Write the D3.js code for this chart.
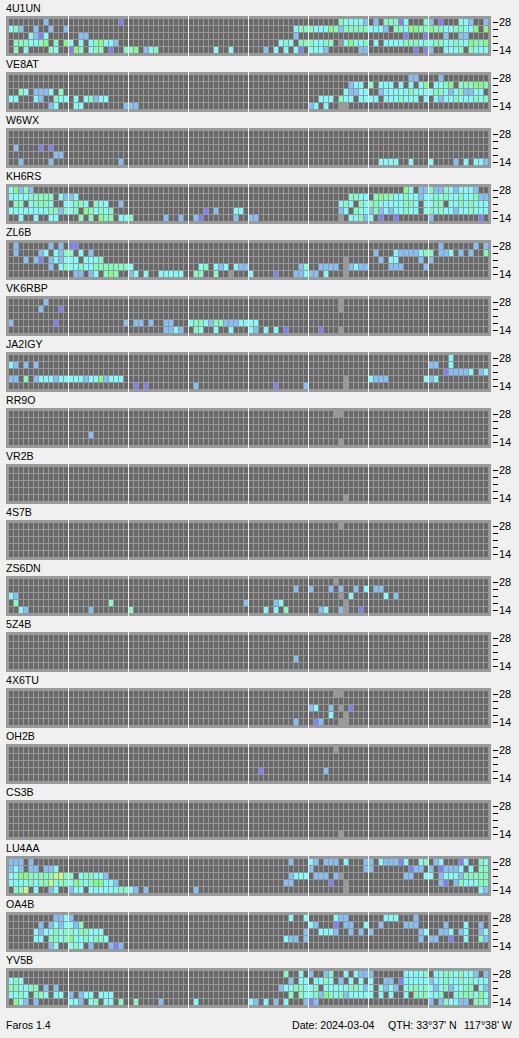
<!DOCTYPE html>
<html>
<head>
<meta charset="utf-8">
<script src="https://cdn.jsdelivr.net/npm/d3@7"></script>
<style>
html,body{margin:0;padding:0;background:#f0f0f0;overflow:hidden}
svg{display:block}
text{font-family:"Liberation Sans",Arial,sans-serif;font-size:10.6px;fill:#000}
</style>
</head>
<body>
<svg id="chart" width="519" height="1038"></svg>
<script>
// Row data: "startColumn:levels" (one digit per 15-minute column, 0 = no signal, 9 = not measured)
const stations = ["4U1UN","VE8AT","W6WX","KH6RS","ZL6B","VK6RBP","JA2IGY","RR9O","VR2B","4S7B","ZS6DN","5Z4B","4X6TU","OH2B","CS3B","LU4AA","OA4B","YV5B"];
const bands = [28,24,21,18,14];
const bandLabels = [28,14];
const levels = [1,2,3,4,5,6,9];
const levelColors = ["#8080ff","#80c0ff","#80ffff","#80ffc0","#80ff80","#c0ff80","#999999"];
const hourLines = [12,24,36,48,60,72,84];
const footer = ["Faros 1.4","Date: 2024-03-04","QTH: 33°37' N","117°38' W"];

const log4U1UN = ["7:2 22:1 66:433332 73:2 75:44413 83:42 86:1 90:332 95:2",
"0:342 5:2 8:2 11:2 57:3444333542444443332 77:44355445443344335 95:5",
"4:3213 14:22 57:2 79:1 83:1 87:2 90:22",
"1:4443345 9:4 11:53 14:3 16:345332 54:343 58:4443344 66:935334 73:3 75:333344434344334335445",
"1:4 3:3 8:43 12:154 16:344 20:1 23:445 27:234 41:3 44:3 51:2 53:3 55:3 57:31 60:3332 70:22 81:1 83:12 87:3334 92:4333"];
const logVE8AT = ["80:22 86:2",
"68:233 72:4 74:333 78:3 80:3 82:35 85:3345 90:444554",
"2:43 5:2223 10:4 67:32233 74:23333343333 85:4432342233",
"0:33 5:32 9:433 13:3 15:34233 62:333 66:433 70:3333 75:3334333 83:3 85:32334333434",
"8:23 13:33 23:222 60:23 63:3 66:99"];
const logW6WX = ["","","1:2 6:1 8:1","9:22","2:2 8:2 22:2 74:3333 80:3 84:3 89:2 91:3 93:332"];
const logKH6RS = ["0:35242 79:53 82:224224323332",
"0:333344444 10:3223 68:4433 73:4544 77:334 80:332 83:334 86:343 89:343 92:342 95:2",
"1:44 4:34443 11:33443 17:433 22:2 66:343 70:434 73:433 76:333 79:443 83:33 85:44 88:33 90:434 93:333",
"0:33333333 8:44 10:2 11:434 15:543434 39:1 41:2 45:33 66:23 69:433 72:242 75:3233 79:433 83:343 86:433 89:233 92:4333",
"2:3 5:3 8:33 14:4 16:4 18:544 22:334 31:2 34:2 37:21 45:2 48:22 66:9 68:334 71:23 74:1 77:1 84:2 94:1"];
const logZL6B = ["1:2 8:2 10:2 12:11 86:2 93:2 95:2",
"1:2 6:23 9:3244 14:3 16:2 73:2 77:32222 82:344 86:223 90:2 92:2 95:4",
"3:2 5:21 8:232333 15:3334 67:9 74:2 76:33 82:2 84:2",
"8:2 10:34334 15:334444 21:4443 38:34 41:323 45:322 58:24 62:2222 67:9 68:2322 76:222 83:2",
"13:22 16:23 19:454 24:23 27:3 30:33333 37:44 41:4 44:9 48:3 53:1 57:22322 63:3 67:9"];
const logVK6RBP = ["7:2 66:9","6:2 10:1 66:9","",
"0:2 9:1 23:2 25:22 28:2 31:22 36:344 39:32 41:44 43:222 46:3333",
"31:2232 37:43 41:3 44:3 48:32 51:3 53:3 55:1 62:1 66:9"];
const logJA2IGY = ["88:3","0:32 3:2 5:2 84:22 88:3","87:122223 94:23",
"0:22 3:4 5:2333 9:2 10:33333 15:2 16:33 18:5 19:2 20:333 67:9 72:3222 83:323",
"25:1 27:1 37:2 53:1 59:2 67:9"];
const logRR9O = ["65:99","","","16:2","66:9"];
const logVR2B = ["","","","","67:9"];
const log4S7B = ["66:9","","","",""];
const logZS6DN = ["65:9","57:2 60:2 64:2 66:2 69:2 71:3 73:22","0:32 66:9 68:3 75:3 77:2",
"1:4 20:4 47:2 53:23 67:9","2:32 16:2 24:4 51:3 53:3 55:4 62:23 66:2 67:9 70:1"];
const log5Z4B = ["","","","57:2",""];
const log4X6TU = ["65:99","","60:23 64:2 66:9 68:1","64:3 67:9","57:2 61:12 66:99"];
const logOH2B = ["65:9","","","50:1 63:2",""];
const logCS3B = ["","","","","66:9"];
const logLU4AA = ["0:222 4:2 56:2 60:32 63:222 67:3 71:22 74:322213 82:34 85:23 90:13 94:43",
"0:232 4:22 7:223 60:2 71:22 80:122 84:2 86:12223 92:3 94:44",
"0:335544444 9:66 11:44 14:344332 56:2333 61:222 65:29 79:22 83:33 86:2333 90:244444",
"0:3333 4:43446 9:344 12:354 15:34 17:55 19:332 55:22 64:1 67:9 86:21 89:24 91:333 94:44",
"1:446 5:3 8:23 12:233 16:33333 21:3 22:44 24:32 27:2 37:2 67:9 94:32"];
const logOA4B = ["9:2232 56:3 59:3 65:322 75:333 81:2",
"6:2 8:23233 13:24 60:32 65:1 67:22 71:3 74:2 79:222 87:2 91:3 94:2",
"5:32334 10:344 13:344 16:333 59:2 62:3332 68:2 70:2 72:2 82:23 86:223 90:23 94:23",
"5:33 8:443 11:453 14:343 17:443 55:322 59:2 82:2 84:22 88:1 91:3 94:42",
"8:23 12:343 16:2 20:212"];
const logYV5B = ["55:4 58:3 60:2 63:24 67:3 69:3222 79:33334 85:33443 90:433 93:2 95:2",
"0:343 56:2 58:33 61:3343 66:2 68:3 70:3 72:3 75:22 78:13333 83:323 86:3 87:433 90:434 93:333",
"0:44334 5:4 7:2 9:2 54:2334 58:433 61:4 63:3333 67:3 68:443 71:2 72:3 74:32 76:32 79:344 82:343 85:23 87:423 90:344 94:32",
"0:33 2:43 5:443 9:33 12:2 14:233 18:333 56:4 58:433 61:42 63:54 65:34 67:2 68:333 71:33 74:3 76:3 79:3 81:444 84:334 89:344 92:4 93:353",
"1:532 5:2 12:332 16:34 19:33 22:4 25:4 30:2 37:3 48:32 51:3 53:2 55:3 59:212 84:2 86:2 87:43322 93:443"];

const logs = [log4U1UN,logVE8AT,logW6WX,logKH6RS,logZL6B,logVK6RBP,logJA2IGY,logRR9O,logVR2B,log4S7B,logZS6DN,log5Z4B,log4X6TU,logOH2B,logCS3B,logLU4AA,logOA4B,logYV5B];

const PANEL = "#999999", EMPTY = "#696969";
const columns = d3.range(96);
const color = d3.scaleOrdinal(levels, levelColors).unknown(EMPTY);
const panelY = d3.scaleBand(stations, [0, 1008]);       // one 56px slot per station
const x = d3.scaleLinear([0, 96], [9, 489]);            // 5px per 15-minute column
const y = d3.scaleBand(bands, [3, 38]);                 // 7px per band
const svg = d3.select("#chart");

function parseRow(row) {
  const out = new Map();
  row.split(" ").filter(Boolean).forEach(run => {
    const [start, digits] = run.split(":");
    [...digits].forEach((d, i) => { if (d !== "0") out.set(+start + i, +d); });
  });
  return out;
}

const panels = svg.selectAll("g.panel").data(stations).join("g")
  .attr("class", "panel")
  .attr("transform", d => `translate(0,${panelY(d)})`);

panels.append("text").attr("x", 6).attr("y", 12).text(d => d);

panels.append("rect")
  .attr("x", 6).attr("y", 16).attr("width", 485).attr("height", 40)
  .attr("fill", PANEL).attr("shape-rendering", "crispEdges");

panels.each(function(name, si) {
  const g = d3.select(this).append("g").attr("transform", "translate(0,16)");
  const rows = logs[si].map(parseRow);
  bands.forEach((band, r) => {
    g.append("g").attr("shape-rendering", "crispEdges").selectAll("rect").data(columns).join("rect")
      .attr("x", c => x(c))
      .attr("y", y(band))
      .attr("width", x(1) - x(0) - 1)
      .attr("height", y.step() - 1)
      .attr("fill", c => color(rows[r].get(c)));
  });
  g.append("g").selectAll("rect").data(hourLines).join("rect")
    .attr("x", c => x(c) - 1).attr("y", 0).attr("width", 1).attr("height", 40)
    .attr("fill", "#f0f0f0").attr("shape-rendering", "crispEdges");
  const axis = d3.axisRight(y).tickValues(bands).tickSize(5).tickPadding(1)
    .tickFormat(d => bandLabels.includes(d) ? d : "");
  const ag = g.append("g").attr("transform", "translate(493,-0.5)").call(axis);
  ag.select(".domain").remove();
  ag.selectAll("text").style("font-size", "11px").style("font-family", '"Liberation Sans",Arial,sans-serif');
  ag.selectAll("line").attr("shape-rendering", "crispEdges").attr("stroke", "#000");
});

const foot = svg.append("g");
[6, 292, 388, 464].forEach((fx, i) => {
  foot.append("text").attr("x", fx).attr("y", 1029).text(footer[i]);
});
</script>
</body>
</html>
